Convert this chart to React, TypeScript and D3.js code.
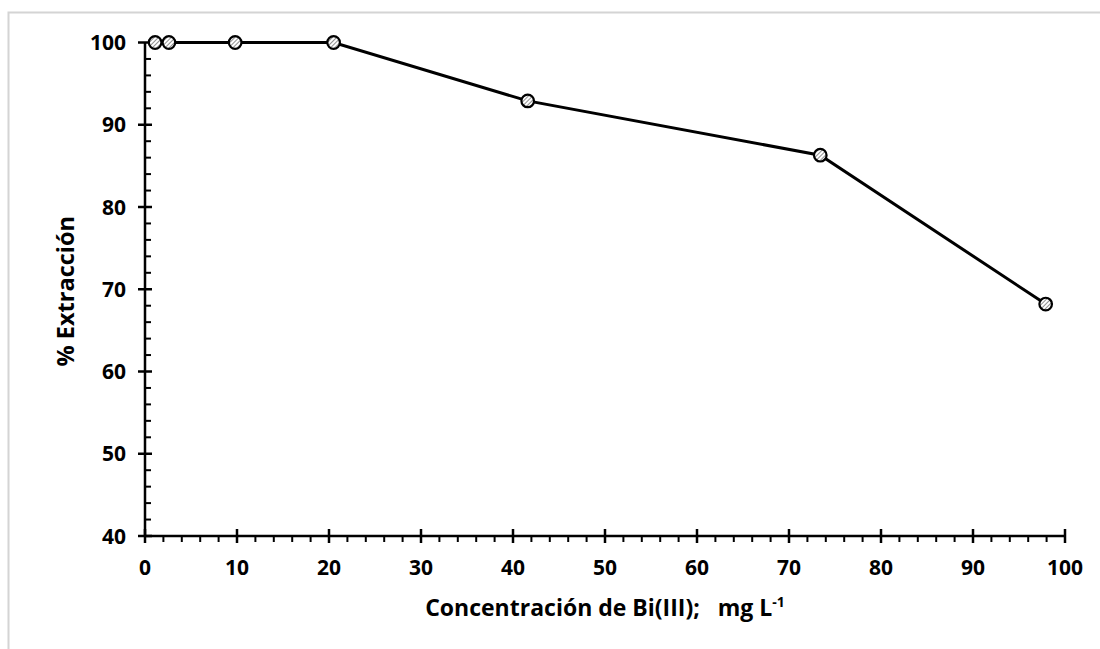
import React from "react";
import * as d3 from "d3";

const concentration = [1.1, 2.6, 9.8, 20.5, 41.6, 73.4, 97.9];
const extraction = [100, 100, 100, 100, 92.9, 86.3, 68.2];
const xTicks = [0, 10, 20, 30, 40, 50, 60, 70, 80, 90, 100];
const yTicks = [40, 50, 60, 70, 80, 90, 100];

const W = 1100;
const H = 649;

export default function App() {
  const x = d3.scaleLinear().domain([0, 100]).range([145, 1065]);
  const y = d3.scaleLinear().domain([40, 100]).range([536, 42.5]);
  const xMinor = d3.range(0, 101, 2).filter((v) => v % 10 !== 0);
  const yMinor = d3.range(40, 101, 2).filter((v) => v % 10 !== 0);
  const pts = concentration.map((c, i) => [x(c), y(extraction[i])] as [number, number]);
  const line = d3.line()(pts) || "";
  const font = "'Open Sans', Lato, sans-serif";
  return (
    <svg
      width={W}
      height={H}
      style={{ position: "absolute", left: 0, top: 0, background: "#fff" }}
    >
      <defs>
        <pattern id="hatch" width="3" height="3" patternUnits="userSpaceOnUse" patternTransform="rotate(45)">
          <rect width="3" height="3" fill="#fff" />
          <line x1="0" y1="0" x2="0" y2="3" stroke="#444" strokeWidth="1.2" />
        </pattern>
      </defs>
      <rect x={8.5} y={12.5} width={1200} height={700} fill="#fff" stroke="#d4d4d4" strokeWidth={2} />
      {/* axes */}
      <line x1={x(0)} x2={x(100)} y1={y(40)} y2={y(40)} stroke="#000" strokeWidth={2.5} />
      <line x1={x(0)} x2={x(0)} y1={y(40)} y2={y(100)} stroke="#000" strokeWidth={2.5} />
      {xTicks.map((t) => (
        <g key={"xt" + t}>
          <line x1={x(t)} x2={x(t)} y1={y(40) - 7} y2={y(40) + 7} stroke="#000" strokeWidth={2.5} />
          <text x={x(t)} y={y(40) + 39} textAnchor="middle" fontFamily={font} fontWeight="bold" fontSize={21} fill="#000">
            {t}
          </text>
        </g>
      ))}
      {xMinor.map((t) => (
        <line key={"xm" + t} x1={x(t)} x2={x(t)} y1={y(40)} y2={y(40) + 6} stroke="#000" strokeWidth={2} />
      ))}
      {yTicks.map((t) => (
        <g key={"yt" + t}>
          <line x1={x(0) - 7} x2={x(0) + 7} y1={y(t)} y2={y(t)} stroke="#000" strokeWidth={2.5} />
          <text x={x(0) - 19} y={y(t) + 7.5} textAnchor="end" fontFamily={font} fontWeight="bold" fontSize={21} fill="#000">
            {t}
          </text>
        </g>
      ))}
      {yMinor.map((t) => (
        <line key={"ym" + t} x1={x(0)} x2={x(0) + 6} y1={y(t)} y2={y(t)} stroke="#000" strokeWidth={2} />
      ))}
      {/* data */}
      <path d={line} fill="none" stroke="#000" strokeWidth={3} />
      {pts.map(([px, py], i) => (
        <circle key={"p" + i} cx={px} cy={py} r={6.3} fill="url(#hatch)" stroke="#000" strokeWidth={2.2} />
      ))}
      {/* titles */}
      <text
        transform={`translate(74, ${y(70) + 2}) rotate(-90)`}
        textAnchor="middle"
        fontFamily={font}
        fontWeight="bold"
        fontSize={23.5}
        fill="#000"
      >
        % Extracción
      </text>
      <text x={x(50)} y={616} textAnchor="middle" fontFamily={font} fontWeight="bold" fontSize={23} fill="#000">
        Concentración de Bi(III);{"\u00a0\u00a0\u00a0"}mg L
        <tspan dy={-9} fontSize={14}>-1</tspan>
      </text>
    </svg>
  );
}
